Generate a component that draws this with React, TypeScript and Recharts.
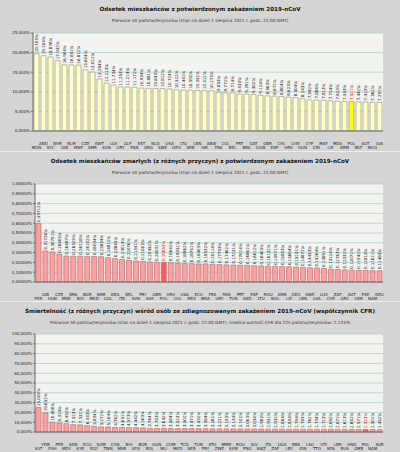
import { BarChart, Bar, XAxis, YAxis, CartesianGrid, Cell, LabelList } from 'recharts';

const HIGHLIGHT = 'POL';

// panel 1: share of population with confirmed infection (%)
const CONFIRMED_CODES = [
  'MON', 'AND', 'SYC', 'BHR', 'GIB', 'BLM', 'MNE', 'CZE', 'SMR', 'KWT',
  'SVN', 'LUX', 'URY', 'GLP', 'PAN', 'EST', 'ARG', 'NLD', 'SWE', 'USA',
  'GEO', 'LTU', 'SRB', 'LBN', 'ISR', 'ABW', 'FRA', 'COL', 'BEL', 'PRT',
  'BRA', 'QAT', 'CUW', 'GBR', 'ESP', 'CHL', 'HRV', 'CHE', 'HUN', 'CYP',
  'CRI', 'MAF', 'LIE', 'MDA', 'ARM', 'POL', 'MLT', 'AUT', 'MCO', 'LVA',
];
const CONFIRMED_PCT = [
  19.703, 19.204, 18.876, 17.932, 16.904, 16.851, 16.812, 15.604, 15.021, 13.284,
  12.213, 11.734, 11.253, 11.214, 11.172, 10.934, 10.881, 10.843, 10.812, 10.724,
  10.522, 10.441, 10.392, 10.351, 10.312, 10.273, 9.853, 9.772, 9.714, 9.433,
  9.391, 9.302, 9.124, 8.963, 8.872, 8.804, 8.623, 8.504, 8.243, 7.942,
  7.884, 7.813, 7.724, 7.623, 7.553, 7.521, 7.442, 7.413, 7.362, 7.291,
];
const CONFIRMED_TICKS = [0, 5, 10, 15, 20, 25];

// panel 2: share of population deceased (%)
const DEATHS_CODES = [
  'PER', 'GIB', 'HUN', 'CZE', 'MNE', 'BRA', 'BIH', 'BGR', 'MKD', 'SMR',
  'COL', 'ARG', 'ITA', 'BEL', 'SVN', 'PRY', 'SVK', 'GBR', 'POL', 'HRV',
  'CHL', 'USA', 'MEX', 'ECU', 'MDA', 'FRA', 'URY', 'PAN', 'TUN', 'PRT',
  'AND', 'ESP', 'LTU', 'ROU', 'BOL', 'ARM', 'LIE', 'GEO', 'LBN', 'SWE',
  'LVA', 'LUX', 'CHE', 'ZAF', 'GRC', 'AUT', 'UKR', 'PSE', 'NAM', 'DEU',
];
const DEATHS_PCT = [
  0.59712, 0.31726, 0.30791, 0.28405, 0.26487, 0.26325, 0.26218, 0.26102, 0.26034, 0.25834,
  0.24812, 0.23845, 0.23014, 0.22076, 0.21341, 0.21063, 0.20452, 0.20031, 0.19853, 0.19642,
  0.19351, 0.18862, 0.18751, 0.18403, 0.18532, 0.18114, 0.17793, 0.17462, 0.17231, 0.17024,
  0.16861, 0.16612, 0.16403, 0.16132, 0.15971, 0.15803, 0.15604, 0.15231, 0.14872, 0.14453,
  0.14264, 0.13891, 0.13124, 0.12763, 0.12332, 0.12071, 0.11942, 0.11813, 0.11621, 0.11483,
];
const DEATHS_TICKS = [0, 0.1, 0.2, 0.3, 0.4, 0.5, 0.6, 0.7, 0.8, 0.9, 1.0];

// panel 3: case fatality rate (%)
const CFR_CODES = [
  'VUT', 'YEM', 'ESH', 'PER', 'MEX', 'SDN', 'SYR', 'ECU', 'EGY', 'SOM',
  'TWN', 'CHN', 'MSR', 'BIH', 'AFG', 'BGR', 'BOL', 'HUN', 'MLI', 'COM',
  'MKD', 'TCD', 'NER', 'TUN', 'PRY', 'ATG', 'ZWE', 'MMR', 'SXM', 'ROU',
  'PNG', 'SLV', 'SWZ', 'ITA', 'ZAF', 'UGA', 'LBY', 'BRA', 'IDN', 'LSO',
  'TTO', 'HTI', 'SEN', 'LBR', 'RUS', 'HND', 'GMB', 'POL', 'NAM', 'SUR',
];
const CFR_PCT = [
  25.0, 19.652, 10.0, 9.314, 8.452, 7.523, 7.331, 6.433, 5.834, 5.272,
  5.164, 4.762, 4.651, 4.573, 4.442, 4.263, 3.764, 3.703, 3.642, 3.584,
  3.523, 3.502, 3.471, 3.432, 3.384, 3.262, 3.221, 3.193, 3.134, 3.102,
  3.063, 3.034, 2.983, 2.951, 2.932, 2.864, 2.833, 2.794, 2.783, 2.762,
  2.734, 2.713, 2.692, 2.671, 2.613, 2.602, 2.571, 2.523, 2.501, 2.452,
];
const CFR_TICKS = [0, 10, 20, 30, 40, 50, 60, 70, 80, 90, 100];

const FONT = '"DejaVu Sans", Verdana, sans-serif';

const fmt = (v: number, d: number) => v.toFixed(d).replace('.', ',') + '%';

function CodeTick(props: any) {
  const { x, y, payload, index } = props;
  const i = payload?.index ?? index ?? 0;
  const upper = i % 2 === 1;
  return (
    <text
      x={x}
      y={y + (upper ? 5.8 : 10.4)}
      textAnchor="middle"
      fontSize={4}
      fontFamily={FONT}
      fill="#222"
    >
      {payload.value}
    </text>
  );
}

type PanelProps = {
  top: number;
  height: number;
  title: string;
  subtitle: string;
  codes: string[];
  values: number[];
  ticks: number[];
  tickDigits: number;
  labelDigits: number;
  yWidth: number;
  fill: string;
  stroke: string;
  hiFill: string;
};

function Panel(p: PanelProps) {
  const rows = p.codes.map((code, i) => ({ code, value: p.values[i] }));
  const max = p.ticks[p.ticks.length - 1];
  return (
    <div
      style={{
        position: 'absolute',
        left: 0,
        top: p.top,
        width: 400,
        height: p.height,
        background: '#d5d5d5',
        borderTop: p.top > 0 ? '1px solid #ededed' : 'none',
        boxSizing: 'border-box',
        fontFamily: FONT,
      }}
    >
      <div
        style={{
          position: 'absolute',
          top: 6,
          left: 0,
          width: 400,
          textAlign: 'center',
          fontSize: 5.6,
          fontWeight: 'bold',
          color: '#111',
          lineHeight: '7px',
        }}
      >
        {p.title}
      </div>
      <div
        style={{
          position: 'absolute',
          top: 18,
          left: 0,
          width: 400,
          textAlign: 'center',
          fontSize: 4.3,
          color: '#333',
          lineHeight: '6px',
        }}
      >
        {p.subtitle}
      </div>
      <div style={{ position: 'absolute', left: 0, top: p.top > 0 ? -1 : 0 }}>
        <BarChart
          width={400}
          height={p.height}
          data={rows}
          margin={{ top: 33, right: 17, bottom: 0, left: 0 }}
          barCategoryGap={1}
        >
          <CartesianGrid vertical={false} stroke="#a6d2d0" fill="#f3f3f0" strokeWidth={0.8} />
          <XAxis
            dataKey="code"
            interval={0}
            tick={(tp: any) => <CodeTick {...tp} />}
            tickLine={false}
            axisLine={{ stroke: '#6a6a6a' }}
            height={p.height - 33 - 98}
          />
          <YAxis
            domain={[0, max]}
            ticks={p.ticks}
            interval={0}
            width={p.yWidth}
            tickSize={2}
            tickMargin={1}
            tickFormatter={(v: number) => fmt(v, p.tickDigits)}
            tick={{ fontSize: 4, fill: '#222', fontFamily: FONT }}
            axisLine={{ stroke: '#6a6a6a' }}
            tickLine={{ stroke: '#6a6a6a' }}
          />
          <Bar dataKey="value" isAnimationActive={false} stroke={p.stroke} strokeWidth={0.6}>
            {rows.map((r) => (
              <Cell key={r.code} fill={r.code === HIGHLIGHT ? p.hiFill : p.fill} />
            ))}
            <LabelList
              dataKey="value"
              content={(lp: any) => {
                const cx = lp.x + lp.width / 2;
                const cy = lp.y - 1.5;
                const hi = rows[lp.index]?.code === HIGHLIGHT;
                return (
                  <text
                    x={cx}
                    y={cy}
                    transform={`rotate(-90 ${cx} ${cy})`}
                    textAnchor="start"
                    dominantBaseline="central"
                    fontSize={4}
                    fontFamily={FONT}
                    fill={hi ? '#e00000' : '#111'}
                  >
                    {fmt(lp.value, p.labelDigits)}
                  </text>
                );
              }}
            />
          </Bar>
        </BarChart>
      </div>
    </div>
  );
}

export default function App() {
  return (
    <div style={{ position: 'absolute', left: 0, top: 0, width: 400, height: 452, background: '#d5d5d5' }}>
      <Panel
        top={0}
        height={151}
        title="Odsetek mieszkańców z potwierdzonym zakażeniem 2019-nCoV"
        subtitle="Pierwsze 50 państw/terytoriów [stan na dzień 1 sierpnia 2021 r. godz. 22:00 GMT]"
        codes={CONFIRMED_CODES}
        values={CONFIRMED_PCT}
        ticks={CONFIRMED_TICKS}
        tickDigits={3}
        labelDigits={3}
        yWidth={33}
        fill="#ffffc6"
        stroke="#8c8c7a"
        hiFill="#ffff00"
      />
      <Panel
        top={151}
        height={151}
        title="Odsetek mieszkańców zmarłych (z różnych przyczyn) z potwierdzonym zakażeniem 2019-nCoV"
        subtitle="Pierwsze 50 państw/terytoriów [stan na dzień 1 sierpnia 2021 r. godz. 22:00 GMT]"
        codes={DEATHS_CODES}
        values={DEATHS_PCT}
        ticks={DEATHS_TICKS}
        tickDigits={5}
        labelDigits={5}
        yWidth={35}
        fill="#ff9f9f"
        stroke="#a86a6a"
        hiFill="#ff5a5a"
      />
      <Panel
        top={301}
        height={151}
        title="Śmiertelność (z różnych przyczyn) wśród osób ze zdiagnozowanym zakażeniem 2019-nCoV (współczynnik CFR)"
        subtitle="Pierwsze 50 państw/terytoriów (stan na dzień 1 sierpnia 2021 r. godz. 22:00 GMT); średnia wartość CFR dla 225 państw/terytoriów: 2,131%"
        codes={CFR_CODES}
        values={CFR_PCT}
        ticks={CFR_TICKS}
        tickDigits={3}
        labelDigits={3}
        yWidth={35}
        fill="#ff9f9f"
        stroke="#a86a6a"
        hiFill="#ff5a5a"
      />
    </div>
  );
}
